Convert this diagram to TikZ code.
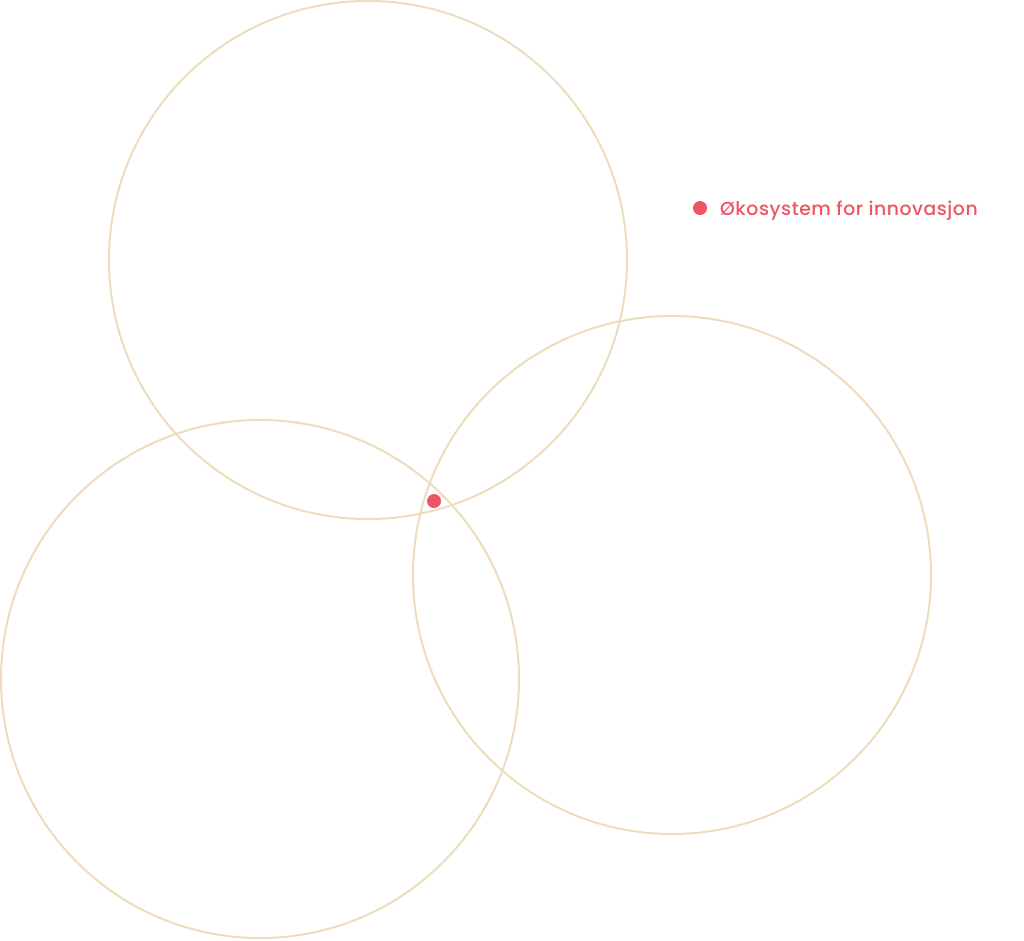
\documentclass[tikz,border=0pt]{standalone}
\usepackage{fontspec}
\usepackage{xcolor}
\usepackage{tikz}
\usetikzlibrary{positioning}
\newfontfamily\legendfont{Poppins}[UprightFont=* Medium, LetterSpace=3]
\definecolor{ringtan}{HTML}{EEDDBC}
\definecolor{dotred}{HTML}{EE5564}

\begin{document}
\begin{tikzpicture}[
  x=1pt, y=-1pt,
  ring/.style={draw=ringtan, line width=2pt},
  dot/.style={circle, fill=dotred, inner sep=0pt, minimum size=14pt},
  legend/.style={text=dotred, inner sep=0pt, font=\legendfont\fontsize{18.8}{22}\selectfont}
]
\useasboundingbox (0,0) rectangle (1024,940);
\draw[ring] (368,260) circle[radius=259pt];
\draw[ring] (260,679) circle[radius=259pt];
\draw[ring] (672,575) circle[radius=259pt];

\node[dot] (hub) at (434,501) {};
\node[dot] (key) at (700,208) {};
\node[legend, anchor=base west] (keytext) at (720,215) {Økosystem for innovasjon};
\end{tikzpicture}
\end{document}
